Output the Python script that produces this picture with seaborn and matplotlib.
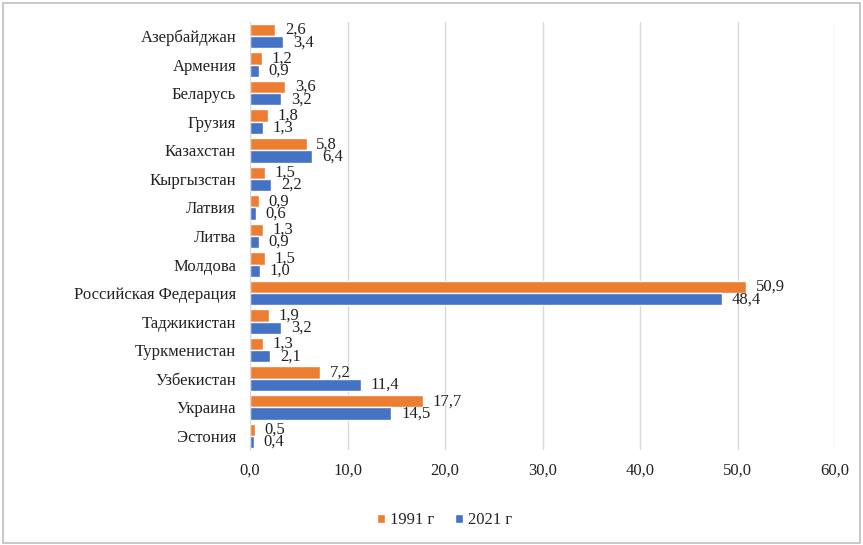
import pandas as pd
import matplotlib.pyplot as plt
import seaborn as sns
from matplotlib.patches import Rectangle

# Data
countries = ['Азербайджан', 'Армения', 'Беларусь', 'Грузия', 'Казахстан',
             'Кыргызстан', 'Латвия', 'Литва', 'Молдова', 'Российская Федерация',
             'Таджикистан', 'Туркменистан', 'Узбекистан', 'Украина', 'Эстония']
share_1991 = [2.6, 1.2, 3.6, 1.8, 5.8, 1.5, 0.9, 1.3, 1.5, 50.9, 1.9, 1.3, 7.2, 17.7, 0.5]
share_2021 = [3.4, 0.9, 3.2, 1.3, 6.4, 2.2, 0.6, 0.9, 1.0, 48.4, 3.2, 2.1, 11.4, 14.5, 0.4]
years = ['1991 г', '2021 г']
colors = ['#ED7D31', '#4472C4']

df = pd.DataFrame({
    'country': countries * 2,
    'value': share_1991 + share_2021,
    'year': [years[0]] * len(countries) + [years[1]] * len(countries),
})

sns.set_style('white')
plt.rcParams['font.family'] = ['Liberation Serif', 'DejaVu Serif']

fig = plt.figure(figsize=(8.63, 5.45), dpi=100)
ax = fig.add_axes([0.2897, 0.174, 0.678, 0.786])

sns.barplot(data=df, x='value', y='country', hue='year', hue_order=years,
            palette=colors, saturation=1, orient='h', width=0.86, ax=ax, legend=True)

# data labels, comma as decimal separator (labels overlap like in the original)
for cont in ax.containers:
    ax.bar_label(cont, labels=[f'{v:.1f}'.replace('.', ',') for v in cont.datavalues],
                 padding=7, fontsize=12, color='#222222')

ax.set_xlim(0, 60)
ax.set_xticks(range(0, 61, 10))
ax.set_xticklabels([f'{t:.1f}'.replace('.', ',') for t in range(0, 61, 10)])
ax.set_ylim(len(countries) - 0.5, -0.5)
ax.xaxis.grid(True, color='#d9d9d9', linewidth=1)
ax.set_axisbelow(True)
ax.set_xlabel('')
ax.set_ylabel('')
for s in ['top', 'right', 'bottom']:
    ax.spines[s].set_visible(False)
ax.spines['left'].set_color('#d9d9d9')
ax.tick_params(axis='both', length=0, labelsize=12, colors='#222222')
ax.tick_params(axis='y', pad=10)
ax.tick_params(axis='x', pad=9)

ax.legend(loc='center', bbox_to_anchor=(0.515, 0.045), bbox_transform=fig.transFigure,
          ncol=2, frameon=False, fontsize=12, handlelength=0.5, handleheight=0.5,
          handletextpad=0.3, columnspacing=1.2)

fig.patches.append(Rectangle((0.003, 0.004), 0.994, 0.99, transform=fig.transFigure,
                             fill=False, edgecolor='#bfbfbf', linewidth=1.2))

fig.savefig('out.png', dpi=100)
